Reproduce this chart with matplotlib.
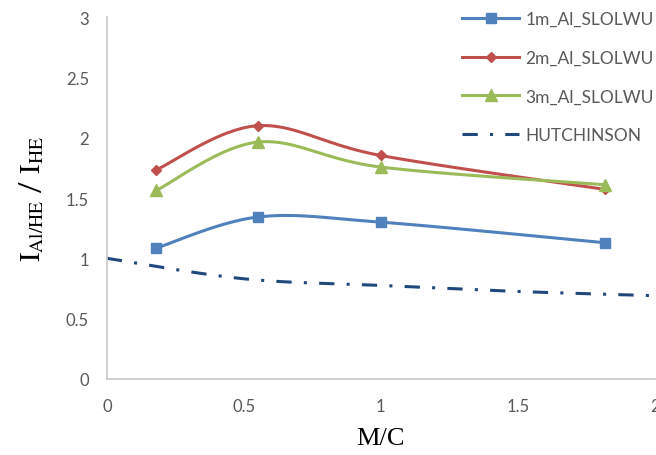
import numpy as np
import matplotlib
matplotlib.use('Agg')
import matplotlib.pyplot as plt

# data
mc = [0.18, 0.55, 1.0, 1.82]
al_1m = [1.085, 1.342, 1.30, 1.129]
al_2m = [1.734, 2.10, 1.853, 1.571]
al_3m = [1.563, 1.964, 1.757, 1.61]

hut_x = [0.0, 0.5, 1.0, 1.5, 2.0]
hut_y = [1.0, 0.83, 0.775, 0.725, 0.69]

labels = ['1m_Al_SLOLWU', '2m_Al_SLOLWU', '3m_Al_SLOLWU', 'HUTCHINSON']


def smooth(xs, ys, n=40):
    # excel-like smoothed line (catmull-rom bezier)
    p = np.column_stack([xs, ys]).astype(float)
    p = np.vstack([p[0], p, p[-1]])
    out = []
    t = np.linspace(0, 1, n)[:, None]
    for i in range(1, len(p) - 2):
        p0, p1, p2, p3 = p[i - 1], p[i], p[i + 1], p[i + 2]
        c1 = p1 + (p2 - p0) / 6
        c2 = p2 - (p3 - p1) / 6
        seg = ((1 - t) ** 3) * p1 + 3 * ((1 - t) ** 2) * t * c1 + 3 * (1 - t) * t ** 2 * c2 + t ** 3 * p2
        out.append(seg)
    out = np.vstack(out)
    return out[:, 0], out[:, 1]


plt.rcParams['font.family'] = ['Lato', 'DejaVu Sans']
plt.rcParams['mathtext.fontset'] = 'stix'

fig = plt.figure(figsize=(6.56, 4.56), dpi=100)
ax = fig.add_axes([0.163, 0.167, 0.835, 0.793])

series = [(al_1m, '#4F81BD', 's', 7.5), (al_2m, '#C0504D', 'D', 5.5), (al_3m, '#9BBB59', '^', 8)]
handles = []
for (ys, col, mk, ms), lab in zip(series, labels[:3]):
    sx, sy = smooth(mc, ys)
    ax.plot(sx, sy, color=col, lw=2.2, zorder=2)
    ax.plot(mc, ys, ls='none', marker=mk, ms=ms, color=col, zorder=3)
    h, = ax.plot([], [], color=col, lw=2.2, marker=mk, ms=ms, label=lab)
    handles.append(h)

hx, hy = smooth(hut_x, hut_y)
h, = ax.plot(hx, hy, color='#1F497D', lw=2.2, ls=(0, (5, 4, 1, 4)), label=labels[3])
handles.append(h)

ax.set_xlim(0, 2)
ax.set_ylim(0, 3)
ax.set_xticks([0, 0.5, 1, 1.5, 2])
ax.set_xticklabels(['0', '0.5', '1', '1.5', '2'])
ax.set_yticks([0, 0.5, 1, 1.5, 2, 2.5, 3])
ax.set_yticklabels(['0', '0.5', '1', '1.5', '2', '2.5', '3'])
ax.tick_params(axis='y', length=0, labelsize=12, colors='#595959', pad=13)
ax.tick_params(axis='x', length=0, labelsize=12, colors='#595959', pad=14)

for s in ['top', 'right']:
    ax.spines[s].set_visible(False)
for s in ['left', 'bottom']:
    ax.spines[s].set_color('#C8C8C8')
    ax.spines[s].set_linewidth(1.2)

ax.set_xlabel('M/C', family='Liberation Serif', fontsize=19, labelpad=9)
ax.set_ylabel(r'$\mathrm{I_{Al/HE}}$ / $\mathrm{I_{HE}}$', fontsize=20, labelpad=14)

leg = ax.legend(handles=handles, loc='upper left', bbox_to_anchor=(0.62, 1.06),
                frameon=False, fontsize=12.5, handlelength=3.3, labelspacing=1.3,
                handletextpad=0.35)
for t in leg.get_texts():
    t.set_color('#595959')

fig.savefig('out.png', dpi=100)
